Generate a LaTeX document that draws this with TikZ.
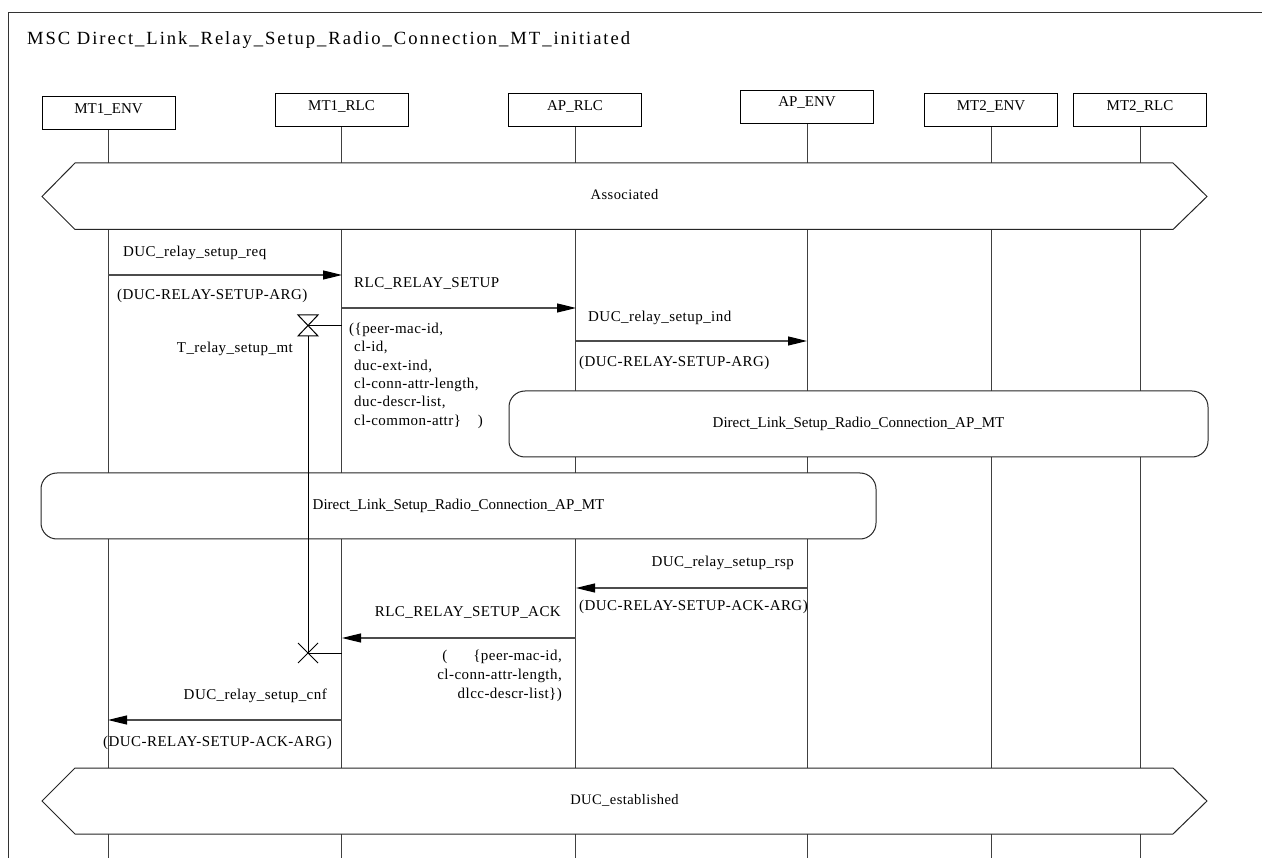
\documentclass[tikz,border=0pt]{standalone}
\usepackage{fontspec}
\setmainfont{Liberation Serif}
\newfontfamily\titlefam[LetterSpace=10.5]{Liberation Serif}
\newfontfamily\labfam[LetterSpace=3]{Liberation Serif}
\usetikzlibrary{arrows.meta}
\newcommand\lblfont{\labfam\fontsize{15}{18}\selectfont}
\newcommand\boxfont{\fontsize{15}{18}\selectfont}
\newcommand\ttlfont{\titlefam\fontsize{18.6}{22}\selectfont}
\begin{document}
\begin{tikzpicture}[x=1pt,y=-1pt,
  inst/.style={draw, line width=1pt, minimum width=133pt, minimum height=33pt, inner sep=0pt, text height=8pt, text depth=8pt, font=\boxfont},
  life/.style={line width=1pt, black!75},
  msg/.style={line width=1.2pt, black!70, -{Triangle[length=19pt,width=9pt,color=black]}},
  txt/.style={inner sep=0pt, font=\lblfont, text height=10pt, text depth=3pt},
  hex/.style={draw=black!85, fill=white, line width=1pt},
  refbox/.style={draw=black!85, fill=white, line width=1pt, rounded corners=16pt, inner sep=0pt, font=\boxfont, text=black},
  tline/.style={line width=1pt, black}
]
\useasboundingbox (0,0) rectangle (1262,858);
% frame
\draw[line width=1pt, black!80] (8,858) -- (8,13) -- (1262,13);
\node[anchor=base west, inner sep=0pt, font=\ttlfont] (title) at (27,45) {MSC Direct\_Link\_Relay\_Setup\_Radio\_Connection\_MT\_initiated};

% instances
\node[inst] (mt1env) at (108.5,113.5) {MT1\_ENV};
\node[inst] (mt1rlc) at (341.5,110.5) {MT1\_RLC};
\node[inst] (aprlc)  at (575,110.5) {AP\_RLC};
\node[inst] (apenv)  at (807,107) {AP\_ENV};
\node[inst] (mt2env) at (991,110.5) {MT2\_ENV};
\node[inst] (mt2rlc) at (1140,110.5) {MT2\_RLC};

% lifelines
\coordinate (e1) at (108,858);
\coordinate (e2) at (342,858);
\coordinate (e3) at (576,858);
\coordinate (e4) at (807,858);
\coordinate (e5) at (992,858);
\coordinate (e6) at (1141,858);
\draw[life] (mt1env.south) -- (mt1env.south |- e1);
\draw[life] (mt1rlc.south) -- (mt1rlc.south |- e2);
\draw[life] (aprlc.south) -- (aprlc.south |- e3);
\draw[life] (apenv.south) -- (apenv.south |- e4);
\draw[life] (mt2env.south) -- (mt2env.south |- e5);
\draw[life] (mt2rlc.south) -- (mt2rlc.south |- e6);

% Associated condition
\draw[hex] (42,196.5) -- (75,163) -- (1173,163) -- (1207,196.5) -- (1173,229.5) -- (75,229.5) -- cycle;
\node[txt, font=\labfam\fontsize{14.5}{16}\selectfont] (assoc) at (624.5,196) {Associated};

% message 1
\coordinate (m1a) at (108,275);
\coordinate (m1b) at (342,275);
\draw[msg] (m1a) -- (m1b);
\node[txt, anchor=west] (m1l) at (123,253) {DUC\_relay\_setup\_req};
\node[txt, anchor=west] (m1p) at (117,296) {(DUC-RELAY-SETUP-ARG)};

% message 2
\coordinate (m2a) at (342,308);
\coordinate (m2b) at (576,308);
\draw[msg] (m2a) -- (m2b);
\node[txt, anchor=west] (m2l) at (354,284) {RLC\_RELAY\_SETUP};
\node[txt, anchor=west] (m2p1) at (349,330) {(\{peer-mac-id,};
\node[txt, anchor=west] (m2p2) at (354,348.5) {cl-id,};
\node[txt, anchor=west] (m2p3) at (354,367) {duc-ext-ind,};
\node[txt, anchor=west] (m2p4) at (354,385) {cl-conn-attr-length,};
\node[txt, anchor=west] (m2p5) at (354,403.5) {duc-descr-list,};
\node[txt, anchor=west] (m2p6) at (354,422) {cl-common-attr\}\ \ \ \ )};

% message 3
\coordinate (m3a) at (576,341);
\coordinate (m3b) at (807,341);
\draw[msg] (m3a) -- (m3b);
\node[txt, anchor=west] (m3l) at (588,318) {DUC\_relay\_setup\_ind};
\node[txt, anchor=west] (m3p) at (579,363) {(DUC-RELAY-SETUP-ARG)};

% reference 1
\node[refbox, minimum width=699pt, minimum height=66pt] (ref1) at (858.5,424) {Direct\_Link\_Setup\_Radio\_Connection\_AP\_MT};
% reference 2
\node[refbox, minimum width=835pt, minimum height=66pt] (ref2) at (458.5,506) {Direct\_Link\_Setup\_Radio\_Connection\_AP\_MT};

% timer
\coordinate (tst) at (308,325.5);
\coordinate (tend) at (308,653);
\draw[tline] (298,315) -- (318,315) -- (298,336) -- (318,336) -- cycle;
\draw[tline] (tst) -- (tst -| mt1rlc.south);
\draw[tline] (308,336) -- (tend);
\draw[tline] (298,643) -- (318,663) (298,663) -- (318,643);
\draw[tline] (tend) -- (tend -| mt1rlc.south);
\node[txt, anchor=east] (tlbl) at (293,349) {T\_relay\_setup\_mt};

% message 4
\coordinate (m4a) at (807,588);
\coordinate (m4b) at (576,588);
\draw[msg] (m4a) -- (m4b);
\node[txt, anchor=east] (m4l) at (794,563) {DUC\_relay\_setup\_rsp};
\node[txt, anchor=west] (m4p) at (579,607) {(DUC-RELAY-SETUP-ACK-ARG)};

% message 5
\coordinate (m5a) at (576,638);
\coordinate (m5b) at (342,638);
\draw[msg] (m5a) -- (m5b);
\node[txt, anchor=east] (m5l) at (561,613) {RLC\_RELAY\_SETUP\_ACK};
\node[txt, anchor=east] (m5p1) at (562,657) {(\hspace{26pt}\{peer-mac-id,};
\node[txt, anchor=east] (m5p2) at (562,676) {cl-conn-attr-length,};
\node[txt, anchor=east] (m5p3) at (562,695) {dlcc-descr-list\})};

% message 6
\coordinate (m6a) at (342,720);
\coordinate (m6b) at (108,720);
\draw[msg] (m6a) -- (m6b);
\node[txt, anchor=east] (m6l) at (327,696) {DUC\_relay\_setup\_cnf};
\node[txt, anchor=west] (m6p) at (103,743) {(DUC-RELAY-SETUP-ACK-ARG)};

% DUC_established condition
\draw[hex] (42,801) -- (75,768) -- (1173,768) -- (1207,801) -- (1173,834) -- (75,834) -- cycle;
\node[txt, font=\labfam\fontsize{14.5}{16}\selectfont] (est) at (624.5,801) {DUC\_established};
\end{tikzpicture}
\end{document}
